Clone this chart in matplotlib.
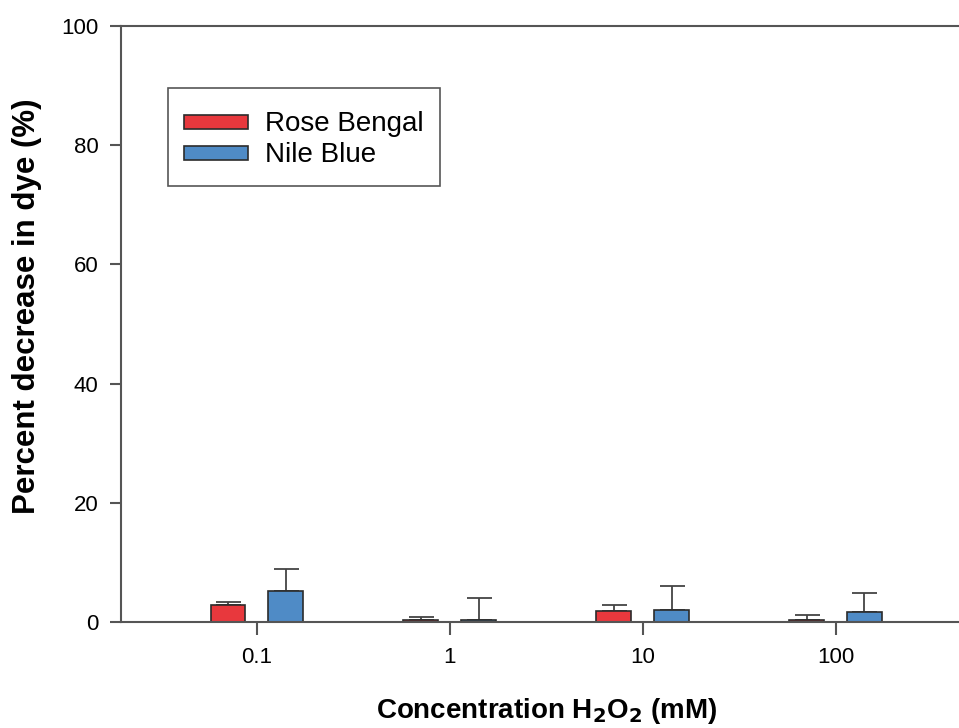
import numpy as np
import matplotlib.pyplot as plt
from matplotlib.patches import Rectangle
from matplotlib.container import BarContainer
from matplotlib.legend_handler import HandlerPatch

plt.rcParams['font.family'] = ['Liberation Sans', 'DejaVu Sans']

# Mean percent decrease and upper error for each H2O2 concentration
concentrations = ["0.1", "1", "10", "100"]
rose_bengal = [2.9, 0.4, 1.85, 0.4]
rose_bengal_err = [0.4, 0.5, 1.0, 0.7]
nile_blue = [5.25, 0.4, 2.0, 1.65]
nile_blue_err = [3.6, 3.7, 4.0, 3.15]

red = "#E8383D"
blue = "#4F8BC6"
edge = "#2b2b2b"
spine = "#555555"

fig = plt.figure(figsize=(9.59, 7.28), dpi=100)
ax = fig.add_axes([0.126, 0.1456, 0.874, 0.8187])

x = np.arange(len(concentrations))
w = 0.18
off = 0.15

ax.bar(x - off, rose_bengal, w, color=red, edgecolor=edge, linewidth=1.2,
       label="Rose Bengal", zorder=2)
ax.bar(x + off, nile_blue, w, color=blue, edgecolor=edge, linewidth=1.2,
       label="Nile Blue", zorder=2)

# upper error bars only
ax.errorbar(x - off, rose_bengal, yerr=[np.zeros(4), rose_bengal_err], fmt="none",
            ecolor="#444444", elinewidth=1.3, capsize=9, capthick=1.3, zorder=1)
ax.errorbar(x + off, nile_blue, yerr=[np.zeros(4), nile_blue_err], fmt="none",
            ecolor="#444444", elinewidth=1.3, capsize=9, capthick=1.3, zorder=1)

ax.set_xlim(-0.705, 3.64)
ax.set_ylim(0, 100)
ax.set_xticks(x)
ax.set_xticklabels(concentrations)
ax.set_yticks(np.arange(0, 101, 20))

for s in ["left", "bottom", "top"]:
    ax.spines[s].set_color(spine)
    ax.spines[s].set_linewidth(1.5)
ax.spines["right"].set_visible(False)

ax.tick_params(direction="out", length=8, width=1.5, color=spine,
               labelsize=16)
ax.tick_params(axis="x", length=9, pad=9)
ax.tick_params(axis="y", pad=8)

ax.set_xlabel("Concentration H$_\\mathbf{2}$O$_\\mathbf{2}$ (mM)", fontsize=20,
              fontweight="bold", labelpad=20, x=0.508)
ax.set_ylabel("Percent decrease in dye (%)", fontsize=22.5, fontweight="bold",
              labelpad=14, y=0.53)


# thin legend swatches inside a taller row
def flat_patch(legend, orig_handle, xdescent, ydescent, width, height, fontsize):
    h = 10
    return Rectangle((-xdescent, -ydescent + (height - h) / 2), width, h)


def copy_bar_style(legend_handle, orig_handle):
    legend_handle.update_from(orig_handle.patches[0])


bar_handler = HandlerPatch(patch_func=flat_patch, update_func=copy_bar_style)

leg = ax.legend(loc="upper left", bbox_to_anchor=(0.056, 0.896), fontsize=20,
                frameon=True, fancybox=False, edgecolor=edge, borderaxespad=0,
                handlelength=2.3, handleheight=1.5, borderpad=0.6,
                labelspacing=-0.1, handletextpad=0.6,
                handler_map={BarContainer: bar_handler})
leg.get_frame().set_linewidth(1.2)

fig.savefig("out.png", dpi=100)
